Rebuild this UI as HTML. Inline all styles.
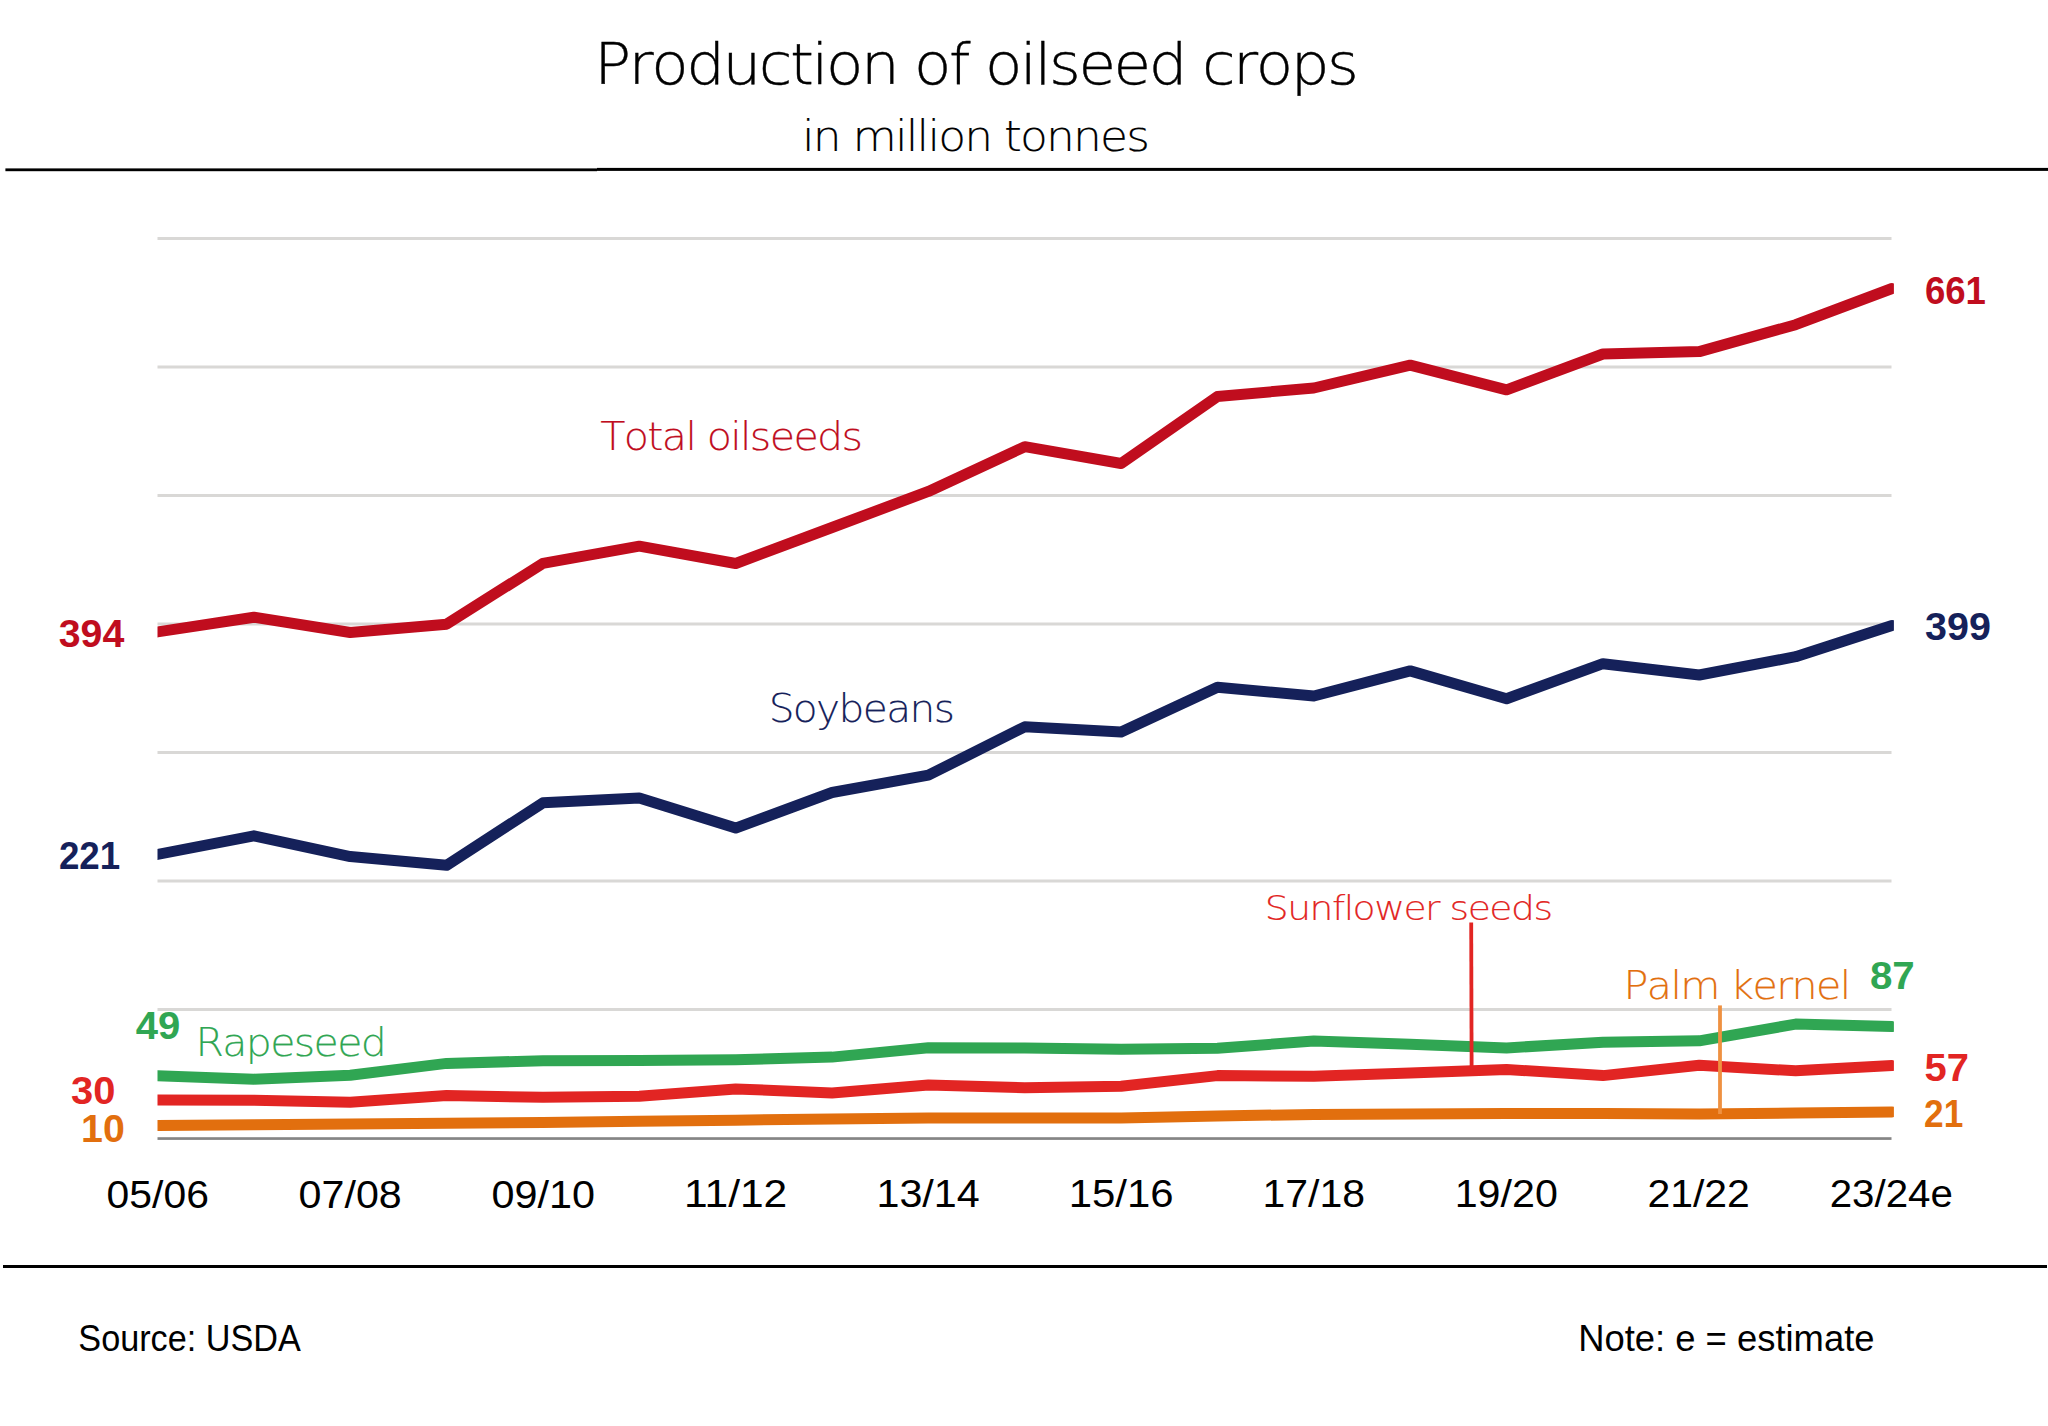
<!DOCTYPE html><html><head><meta charset="utf-8"><title>Production of oilseed crops</title>
<style>html,body{margin:0;padding:0;background:#fff;}svg{display:block;}</style></head><body>
<svg width="2048" height="1426" viewBox="0 0 2048 1426">
<rect x="0" y="0" width="2048" height="1426" fill="#fff"/>
<defs><clipPath id="plot"><rect x="157.5" y="150" width="1736.4" height="1000"/></clipPath></defs>
<rect x="5.4" y="168.4" width="591.6" height="2.8" fill="#000"/>
<rect x="597" y="167.9" width="1451" height="3" fill="#000"/>
<rect x="3" y="1265" width="2044" height="3" fill="#000"/>
<rect x="157.5" y="237.0" width="1734" height="3" fill="#d9d8d6"/>
<rect x="157.5" y="365.5" width="1734" height="3" fill="#d9d8d6"/>
<rect x="157.5" y="494.0" width="1734" height="3" fill="#d9d8d6"/>
<rect x="157.5" y="622.5" width="1734" height="3" fill="#d9d8d6"/>
<rect x="157.5" y="751.0" width="1734" height="3" fill="#d9d8d6"/>
<rect x="157.5" y="879.5" width="1734" height="3" fill="#d9d8d6"/>
<rect x="157.5" y="1008.0" width="1734" height="3" fill="#d9d8d6"/>
<rect x="157.5" y="1137.2" width="1734" height="2.7" fill="#858585"/>
<g clip-path="url(#plot)" fill="none" stroke-width="11" stroke-linejoin="round" stroke-linecap="round">
<polyline points="157.50,1125.60 253.86,1124.80 350.22,1124.00 446.58,1123.20 542.94,1122.40 639.31,1121.30 735.67,1120.20 832.03,1119.00 928.39,1118.00 1024.75,1117.90 1121.11,1117.90 1217.47,1116.00 1313.83,1114.40 1410.19,1114.00 1506.56,1113.60 1602.92,1113.60 1699.28,1113.90 1795.64,1113.00 1892.00,1111.90" stroke="#e26f0e"/>
<polyline points="157.50,1100.00 253.86,1100.30 350.22,1102.20 446.58,1095.60 542.94,1097.30 639.31,1096.20 735.67,1088.90 832.03,1093.00 928.39,1085.00 1024.75,1087.70 1121.11,1086.20 1217.47,1075.60 1313.83,1076.20 1410.19,1073.00 1506.56,1069.50 1602.92,1075.60 1699.28,1065.20 1795.64,1070.80 1892.00,1065.60" stroke="#e22523"/>
<polyline points="157.50,1075.70 253.86,1079.20 350.22,1075.30 446.58,1063.40 542.94,1060.70 639.31,1060.40 735.67,1059.70 832.03,1057.10 928.39,1047.80 1024.75,1047.90 1121.11,1049.30 1217.47,1048.30 1313.83,1041.00 1410.19,1044.30 1506.56,1047.90 1602.92,1042.20 1699.28,1040.80 1795.64,1024.10 1892.00,1026.60" stroke="#30a653"/>
<polyline points="157.50,854.40 253.86,835.80 350.22,856.60 446.58,865.30 542.94,802.80 639.31,798.00 735.67,828.10 832.03,792.50 928.39,775.20 1024.75,726.80 1121.11,731.90 1217.47,687.20 1313.83,696.00 1410.19,670.90 1506.56,698.75 1602.92,663.70 1699.28,675.00 1795.64,656.70 1892.00,625.50" stroke="#15215a"/>
<polyline points="157.50,631.90 253.86,617.20 350.22,632.50 446.58,624.20 542.94,563.30 639.31,546.20 735.67,563.50 832.03,527.50 928.39,491.40 1024.75,446.70 1121.11,463.50 1217.47,396.40 1313.83,388.00 1410.19,365.20 1506.56,389.80 1602.92,354.00 1699.28,351.60 1795.64,324.70 1892.00,288.50" stroke="#c00d1e"/>
</g>
<line x1="1471.2" y1="922.4" x2="1471.6" y2="1066" stroke="#e22523" stroke-width="3.8"/>
<line x1="1720" y1="1005.4" x2="1720" y2="1114" stroke="#ef9141" stroke-width="3.8"/>
<text x="594.24" y="83.84" font-family="'DejaVu Sans', 'Liberation Sans', sans-serif" font-weight="200" font-size="56.6" fill="#000" stroke="#000" stroke-width="0.4" textLength="762.18" lengthAdjust="spacingAndGlyphs" style="font-kerning:none" letter-spacing="-2.26">Production of oilseed crops</text>
<text x="801.90" y="150.66" font-family="'DejaVu Sans', 'Liberation Sans', sans-serif" font-weight="200" font-size="41.9" fill="#000" stroke="#000" stroke-width="0.15" textLength="346.31" lengthAdjust="spacingAndGlyphs" style="font-kerning:none" letter-spacing="-1.68">in million tonnes</text>
<text x="600.21" y="449.67" font-family="'DejaVu Sans', 'Liberation Sans', sans-serif" font-weight="200" font-size="39.6" fill="#c00d1e" stroke="#c00d1e" stroke-width="0.15" textLength="261.25" lengthAdjust="spacingAndGlyphs" style="font-kerning:none" letter-spacing="-1.58">Total oilseeds</text>
<text x="768.66" y="722.25" font-family="'DejaVu Sans', 'Liberation Sans', sans-serif" font-weight="200" font-size="39.6" fill="#15215a" stroke="#15215a" stroke-width="0.15" textLength="184.56" lengthAdjust="spacingAndGlyphs" style="font-kerning:none" letter-spacing="-1.58">Soybeans</text>
<text x="195.50" y="1056.32" font-family="'DejaVu Sans', 'Liberation Sans', sans-serif" font-weight="200" font-size="39.6" fill="#30a653" stroke="#30a653" stroke-width="0.15" textLength="189.68" lengthAdjust="spacingAndGlyphs" style="font-kerning:none" letter-spacing="-1.58">Rapeseed</text>
<text x="1264.76" y="920.09" font-family="'DejaVu Sans', 'Liberation Sans', sans-serif" font-weight="200" font-size="34.2" fill="#e22523" stroke="#e22523" stroke-width="0.15" textLength="286.76" lengthAdjust="spacingAndGlyphs" style="font-kerning:none" letter-spacing="-1.37">Sunflower seeds</text>
<text x="1623.62" y="999.12" font-family="'DejaVu Sans', 'Liberation Sans', sans-serif" font-weight="200" font-size="39.6" fill="#e26f0e" stroke="#e26f0e" stroke-width="0.15" textLength="226.00" lengthAdjust="spacingAndGlyphs" style="font-kerning:none" letter-spacing="-1.58">Palm kernel</text>
<text x="58.77" y="647.35" font-family="'Liberation Sans', sans-serif" font-weight="700" font-size="38.8" fill="#c00d1e" textLength="65.56" lengthAdjust="spacingAndGlyphs">394</text>
<text x="58.88" y="869.30" font-family="'Liberation Sans', sans-serif" font-weight="700" font-size="38.8" fill="#15215a" textLength="61.23" lengthAdjust="spacingAndGlyphs">221</text>
<text x="135.78" y="1039.05" font-family="'Liberation Sans', sans-serif" font-weight="700" font-size="38.8" fill="#30a653" textLength="44.50" lengthAdjust="spacingAndGlyphs">49</text>
<text x="71.05" y="1103.60" font-family="'Liberation Sans', sans-serif" font-weight="700" font-size="38.8" fill="#e22523" textLength="44.36" lengthAdjust="spacingAndGlyphs">30</text>
<text x="81.03" y="1141.55" font-family="'Liberation Sans', sans-serif" font-weight="700" font-size="38.8" fill="#e26f0e" textLength="43.75" lengthAdjust="spacingAndGlyphs">10</text>
<text x="1924.89" y="304.35" font-family="'Liberation Sans', sans-serif" font-weight="700" font-size="38.8" fill="#c00d1e" textLength="61.01" lengthAdjust="spacingAndGlyphs">661</text>
<text x="1924.97" y="640.42" font-family="'Liberation Sans', sans-serif" font-weight="700" font-size="38.8" fill="#15215a" textLength="65.88" lengthAdjust="spacingAndGlyphs">399</text>
<text x="1869.90" y="989.05" font-family="'Liberation Sans', sans-serif" font-weight="700" font-size="38.8" fill="#30a653" textLength="44.82" lengthAdjust="spacingAndGlyphs">87</text>
<text x="1924.44" y="1080.60" font-family="'Liberation Sans', sans-serif" font-weight="700" font-size="38.8" fill="#e22523" textLength="44.38" lengthAdjust="spacingAndGlyphs">57</text>
<text x="1924.10" y="1126.85" font-family="'Liberation Sans', sans-serif" font-weight="700" font-size="38.8" fill="#e26f0e" textLength="39.16" lengthAdjust="spacingAndGlyphs">21</text>
<text x="106.62" y="1207.68" font-family="'Liberation Sans', sans-serif" font-weight="400" font-size="38.1" fill="#000" textLength="102.32" lengthAdjust="spacingAndGlyphs">05/06</text>
<text x="298.61" y="1207.72" font-family="'Liberation Sans', sans-serif" font-weight="400" font-size="38.1" fill="#000" textLength="103.16" lengthAdjust="spacingAndGlyphs">07/08</text>
<text x="491.52" y="1207.76" font-family="'Liberation Sans', sans-serif" font-weight="400" font-size="38.1" fill="#000" textLength="103.49" lengthAdjust="spacingAndGlyphs">09/10</text>
<text x="684.01" y="1207.30" font-family="'Liberation Sans', sans-serif" font-weight="400" font-size="38.1" fill="#000" textLength="103.28" lengthAdjust="spacingAndGlyphs">11/12</text>
<text x="876.48" y="1207.30" font-family="'Liberation Sans', sans-serif" font-weight="400" font-size="38.1" fill="#000" textLength="103.29" lengthAdjust="spacingAndGlyphs">13/14</text>
<text x="1068.73" y="1207.30" font-family="'Liberation Sans', sans-serif" font-weight="400" font-size="38.1" fill="#000" textLength="104.84" lengthAdjust="spacingAndGlyphs">15/16</text>
<text x="1262.47" y="1207.30" font-family="'Liberation Sans', sans-serif" font-weight="400" font-size="38.1" fill="#000" textLength="102.51" lengthAdjust="spacingAndGlyphs">17/18</text>
<text x="1454.68" y="1207.30" font-family="'Liberation Sans', sans-serif" font-weight="400" font-size="38.1" fill="#000" textLength="103.22" lengthAdjust="spacingAndGlyphs">19/20</text>
<text x="1647.44" y="1207.30" font-family="'Liberation Sans', sans-serif" font-weight="400" font-size="38.1" fill="#000" textLength="102.42" lengthAdjust="spacingAndGlyphs">21/22</text>
<text x="1829.68" y="1207.30" font-family="'Liberation Sans', sans-serif" font-weight="400" font-size="38.1" fill="#000" textLength="123.16" lengthAdjust="spacingAndGlyphs">23/24e</text>
<text x="78.34" y="1351.19" font-family="'Liberation Sans', sans-serif" font-weight="400" font-size="36.0" fill="#000" textLength="222.46" lengthAdjust="spacingAndGlyphs">Source: USDA</text>
<text x="1578.15" y="1350.90" font-family="'Liberation Sans', sans-serif" font-weight="400" font-size="36.0" fill="#000" textLength="296.38" lengthAdjust="spacingAndGlyphs">Note: e = estimate</text>
</svg></body></html>
